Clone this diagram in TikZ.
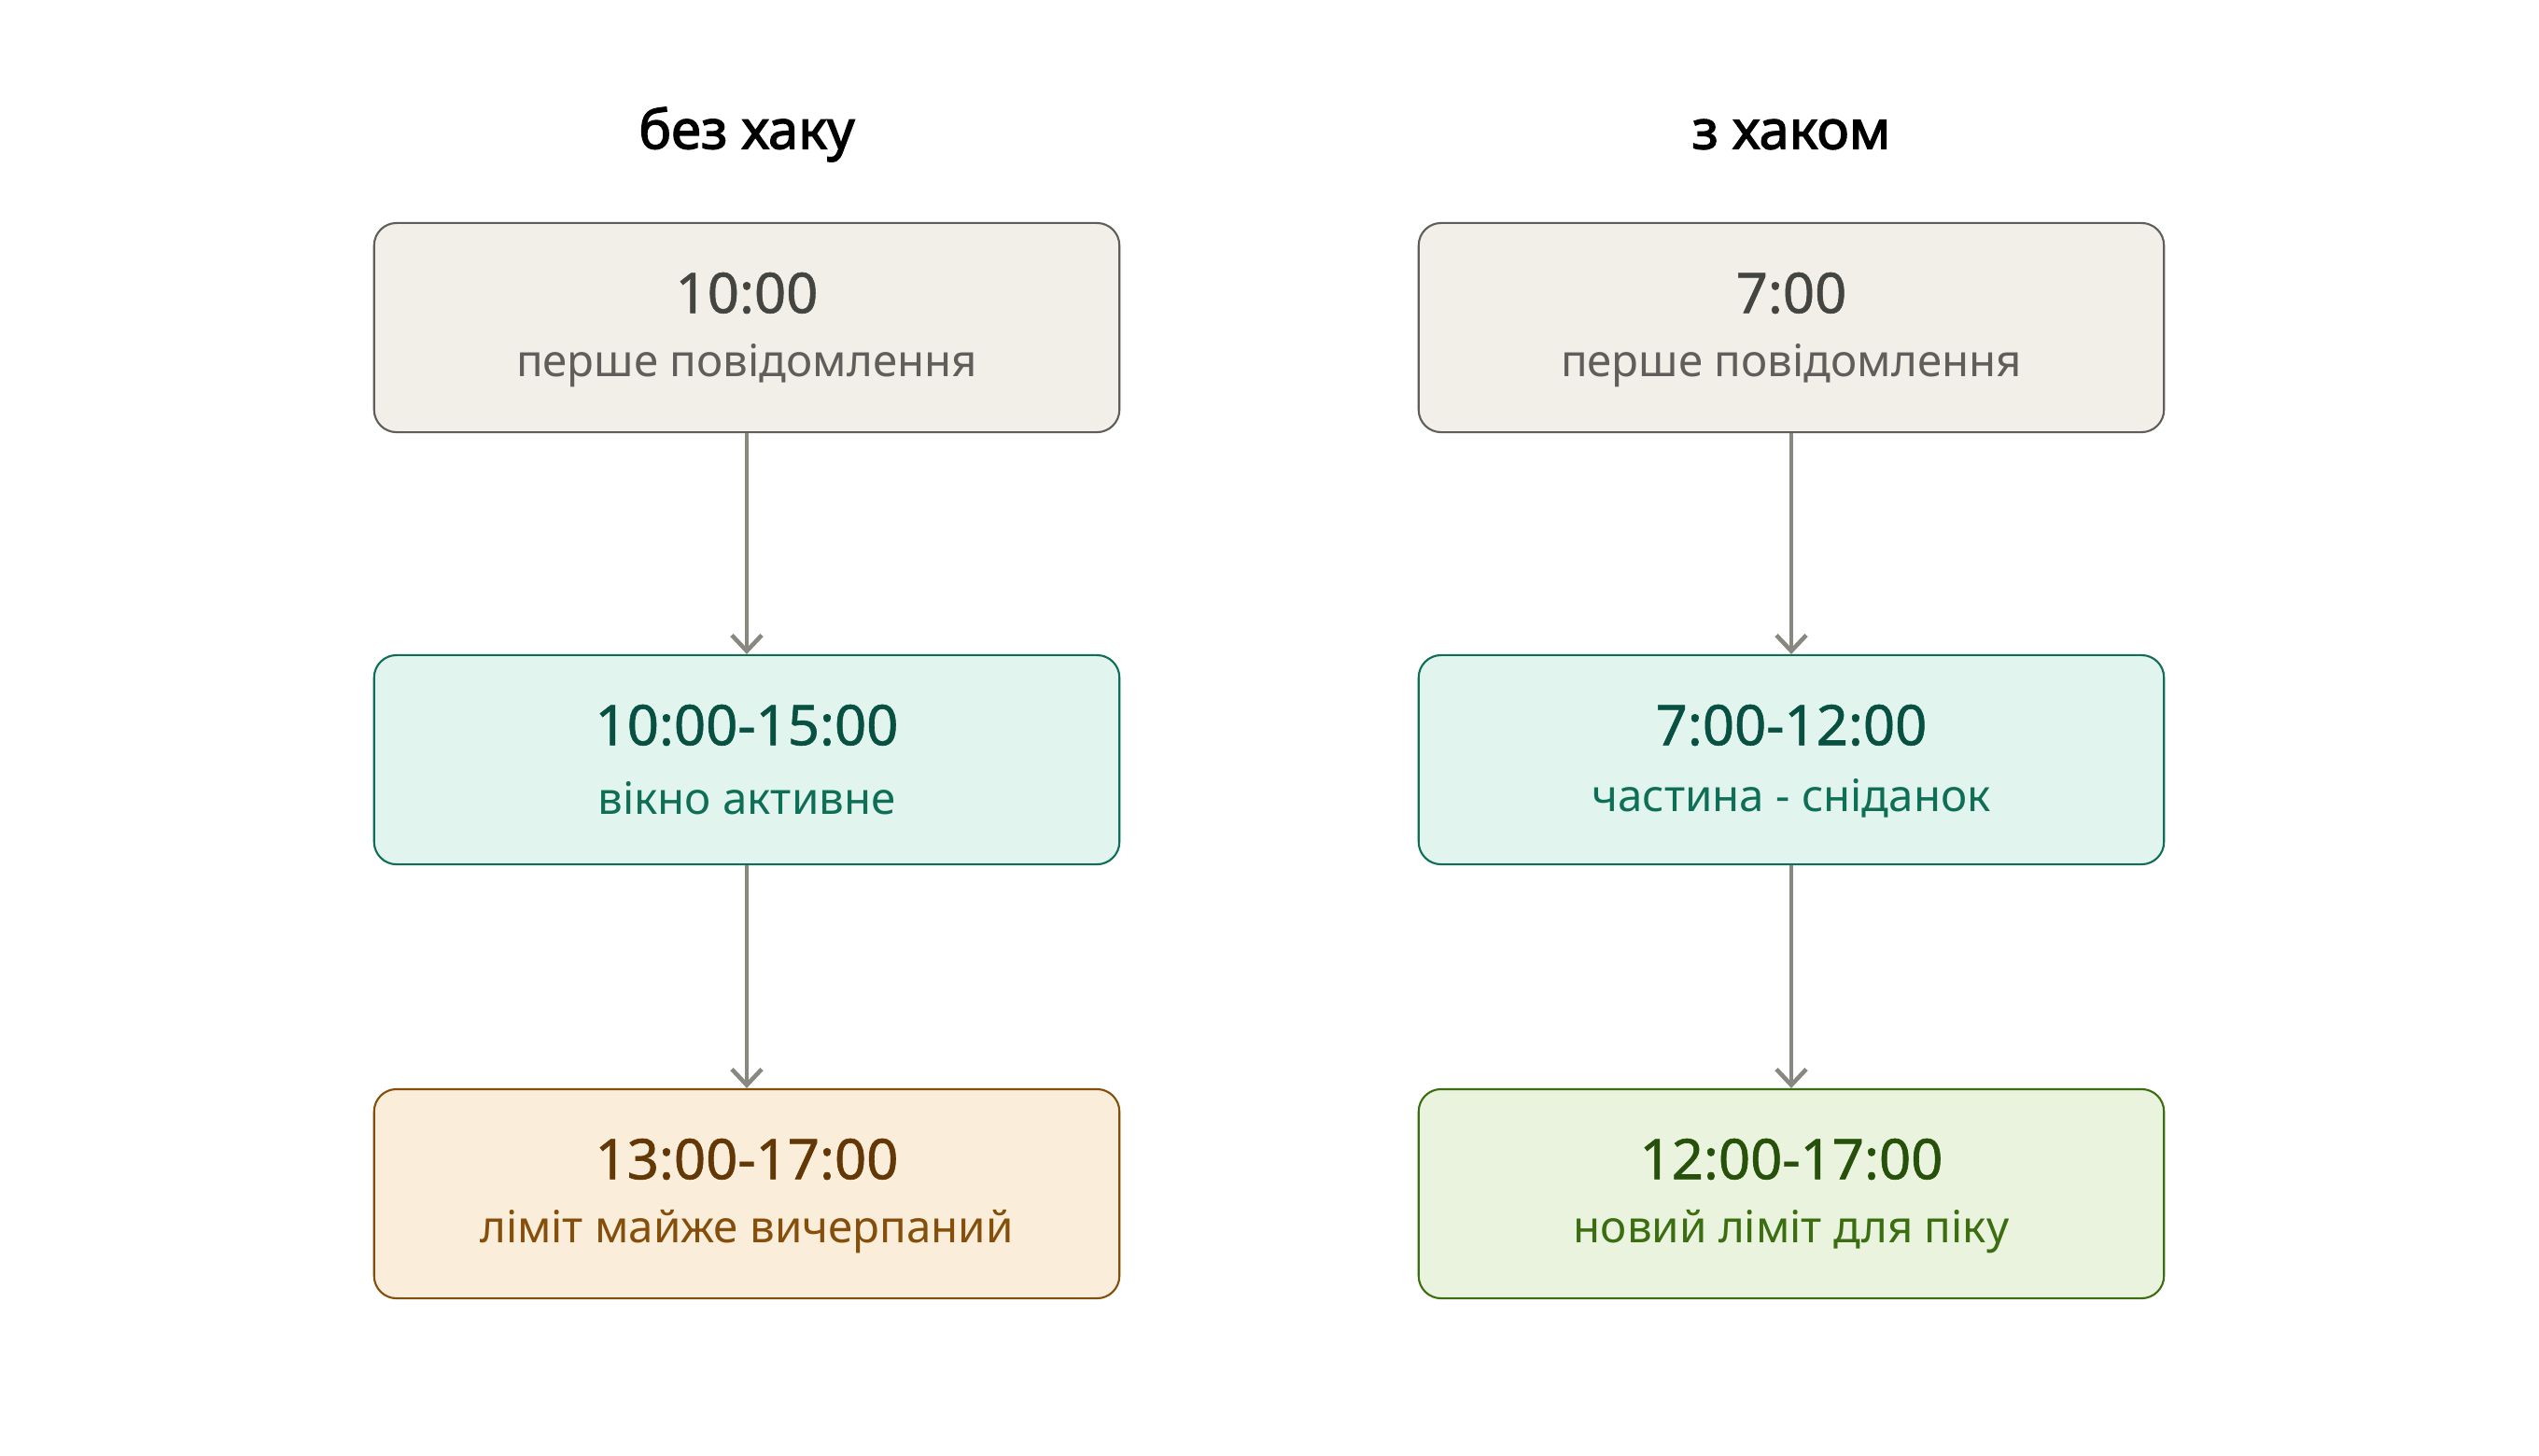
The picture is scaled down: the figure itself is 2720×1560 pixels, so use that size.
\documentclass[tikz,border=0pt]{standalone}
\usepackage{fontspec}
\setmainfont{Noto Sans}
\newfontfamily\medfont[FakeBold=1]{Noto Sans}
\newfontfamily\ttlfont[FakeBold=2.2]{Noto Sans}
\usetikzlibrary{arrows.meta}
\definecolor{grayfill}{HTML}{F1EFE8}
\definecolor{grayline}{HTML}{5F5E5A}
\definecolor{graytime}{HTML}{444441}
\definecolor{graysub}{HTML}{5F5E5A}
\definecolor{tealfill}{HTML}{E1F5EE}
\definecolor{tealline}{HTML}{0F6E56}
\definecolor{tealtime}{HTML}{085041}
\definecolor{tealsub}{HTML}{0F6E56}
\definecolor{ambfill}{HTML}{FAEEDA}
\definecolor{ambline}{HTML}{854F0B}
\definecolor{ambtime}{HTML}{633806}
\definecolor{ambsub}{HTML}{854F0B}
\definecolor{grnfill}{HTML}{EAF3DE}
\definecolor{grnline}{HTML}{3B6D11}
\definecolor{grntime}{HTML}{27500A}
\definecolor{grnsub}{HTML}{3B6D11}
\definecolor{arrowc}{HTML}{888780}
\tikzset{
  box/.style={draw, rounded corners=0.24cm, minimum width=7.98cm, minimum height=2.24cm, line width=0.6pt, inner sep=0pt},
  timetxt/.style={font=\medfont\fontsize{17}{20}\selectfont, inner sep=0pt, anchor=center},
  subtxt/.style={font=\fontsize{13.5}{16}\selectfont, inner sep=0pt, anchor=center},
  title/.style={font=\ttlfont\fontsize{16.5}{19}\selectfont, inner sep=0pt},
  conn/.style={draw=arrowc, line width=1.3pt, -{Straight Barb[length=0.17cm,width=0.32cm,line width=1.3pt]}}
}
\begin{document}
\begin{tikzpicture}[x=0.01cm,y=-0.01cm]
\useasboundingbox[fill=white] (0,0) rectangle (2720,1560);
% titles
\node[title] (t1) at (800,144) {без хаку};
\node[title] (t2) at (1919,144) {з хаком};
% left column
\node[box, fill=grayfill, draw=grayline] (a1) at (800,351) {};
\node[timetxt, text=graytime] (a1t) at (800,314) {10:00};
\node[subtxt, text=graysub] (a1s) at (800,392) {перше повідомлення};
\node[box, fill=tealfill, draw=tealline] (a2) at (800,814) {};
\node[timetxt, text=tealtime] (a2t) at (800,777) {10:00-15:00};
\node[subtxt, text=tealsub] (a2s) at (800,855) {вікно активне};
\node[box, fill=ambfill, draw=ambline] (a3) at (800,1279) {};
\node[timetxt, text=ambtime] (a3t) at (800,1242) {13:00-17:00};
\node[subtxt, text=ambsub] (a3s) at (800,1320) {ліміт майже вичерпаний};
% right column
\node[box, fill=grayfill, draw=grayline] (b1) at (1919,351) {};
\node[timetxt, text=graytime] (b1t) at (1919,314) {7:00};
\node[subtxt, text=graysub] (b1s) at (1919,392) {перше повідомлення};
\node[box, fill=tealfill, draw=tealline] (b2) at (1919,814) {};
\node[timetxt, text=tealtime] (b2t) at (1919,777) {7:00-12:00};
\node[subtxt, text=tealsub] (b2s) at (1919,855) {частина - сніданок};
\node[box, fill=grnfill, draw=grnline] (b3) at (1919,1279) {};
\node[timetxt, text=grntime] (b3t) at (1919,1242) {12:00-17:00};
\node[subtxt, text=grnsub] (b3s) at (1919,1320) {новий ліміт для піку};
% connectors
\draw[conn] (a1.south) -- (a2.north);
\draw[conn] (a2.south) -- (a3.north);
\draw[conn] (b1.south) -- (b2.north);
\draw[conn] (b2.south) -- (b3.north);
\end{tikzpicture}
\end{document}
